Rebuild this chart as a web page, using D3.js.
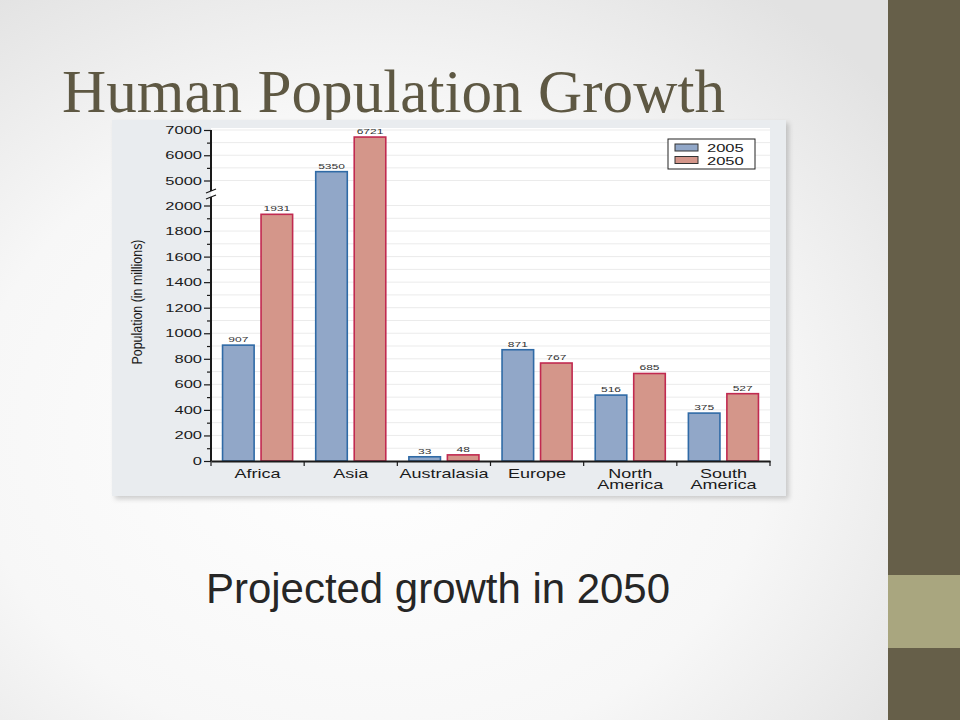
<!DOCTYPE html>
<html>
<head>
<meta charset="utf-8">
<script src="https://cdn.jsdelivr.net/npm/d3@7"></script>
<style>
  body { margin: 0; }
  svg { display: block; }
</style>
</head>
<body>
<div id="slide"></div>
<script>
// data
var regions = ["Africa", "Asia", "Australasia", "Europe", "North America", "South America"];
var years = ["2005", "2050"];
var pop2005 = [907, 5350, 33, 871, 516, 375];
var pop2050 = [1931, 6721, 48, 767, 685, 527];
var lowerTicks = [0, 200, 400, 600, 800, 1000, 1200, 1400, 1600, 1800, 2000];
var lowerMinor = [100, 300, 500, 700, 900, 1100, 1300, 1500, 1700, 1900];
var upperTicks = [5000, 6000, 7000];
var upperMinor = [5500, 6500];

var svgWidth = 960;
var svgHeight = 720;
var stretch = 1.5; // the chart picture is widened sideways

var svg = d3.select("#slide")
  .append("svg")
  .attr("width", svgWidth)
  .attr("height", svgHeight);

var defs = svg.append("defs");
var bg = defs.append("radialGradient").attr("id", "bg")
  .attr("cx", "42%").attr("cy", "60%").attr("r", "75%");
bg.append("stop").attr("offset", "0%").attr("stop-color", "#ffffff");
bg.append("stop").attr("offset", "60%").attr("stop-color", "#f7f7f7");
bg.append("stop").attr("offset", "100%").attr("stop-color", "#e2e2e2");

var shadow = defs.append("filter").attr("id", "shadow")
  .attr("x", "-5%").attr("y", "-5%").attr("width", "115%").attr("height", "115%");
shadow.append("feDropShadow").attr("dx", 3).attr("dy", 3)
  .attr("stdDeviation", 2.5).attr("flood-color", "#000").attr("flood-opacity", 0.18);

// slide background and side bar
svg.append("rect").attr("width", 888).attr("height", svgHeight).attr("fill", "url(#bg)");
svg.append("rect").attr("x", 888).attr("width", 72).attr("height", svgHeight).attr("fill", "#665f49");
svg.append("rect").attr("x", 888).attr("y", 575).attr("width", 72).attr("height", 73).attr("fill", "#a9a67f");

// title
svg.append("text")
  .attr("x", 62).attr("y", 112)
  .attr("font-family", "Liberation Serif, DejaVu Serif, serif")
  .attr("font-size", 61)
  .attr("fill", "#5e5843")
  .attr("textLength", 663)
  .attr("lengthAdjust", "spacingAndGlyphs")
  .text("Human Population Growth");

// chart panel
svg.append("rect")
  .attr("x", 112).attr("y", 120).attr("width", 674).attr("height", 376)
  .attr("fill", "#e9ecef")
  .attr("filter", "url(#shadow)");

var plot = { left: 211, right: 770, top: 128, bottom: 461 };

svg.append("rect")
  .attr("x", plot.left).attr("y", plot.top)
  .attr("width", plot.right - plot.left).attr("height", plot.bottom - plot.top)
  .attr("fill", "#ffffff");

// broken y scale: 0-2000 below, 5000-7000 above
var yScale = d3.scaleLinear()
  .domain([0, 2000, 5000, 7000])
  .range([plot.bottom, 205.5, 180.5, 130]);

var xScale = d3.scaleBand()
  .domain(regions)
  .range([plot.left, plot.right]);

var xInner = d3.scaleBand()
  .domain(years)
  .range([0, xScale.bandwidth()])
  .paddingInner(0.18)
  .paddingOuter(0.3);

var colors = {
  "2005": { fill: "#91a7c8", stroke: "#2f6aa6" },
  "2050": { fill: "#d4968a", stroke: "#c12a50" }
};

// grid lines
var gridVals = lowerTicks.concat(lowerMinor, upperTicks, upperMinor).filter(d => d > 0);
svg.append("g").selectAll("line")
  .data(gridVals)
  .enter()
  .append("line")
  .attr("x1", plot.left).attr("x2", plot.right)
  .attr("y1", d => yScale(d)).attr("y2", d => yScale(d))
  .attr("stroke", "#ebebeb")
  .attr("stroke-width", 1);

// bars
var rows = [];
regions.forEach(function(r, i) {
  rows.push({ region: r, year: "2005", value: pop2005[i] });
  rows.push({ region: r, year: "2050", value: pop2050[i] });
});

var barGroup = svg.append("g");
barGroup.selectAll("rect")
  .data(rows)
  .enter()
  .append("rect")
  .attr("x", d => xScale(d.region) + xInner(d.year))
  .attr("y", d => yScale(d.value))
  .attr("width", xInner.bandwidth())
  .attr("height", d => plot.bottom - yScale(d.value))
  .attr("fill", d => colors[d.year].fill)
  .attr("stroke", d => colors[d.year].stroke)
  .attr("stroke-width", 1.6);

barGroup.selectAll("text")
  .data(rows)
  .enter()
  .append("text")
  .attr("transform", d => `translate(${xScale(d.region) + xInner(d.year) + xInner.bandwidth() / 2},${yScale(d.value) - 3}) scale(${stretch},1)`)
  .attr("text-anchor", "middle")
  .attr("font-family", "Liberation Sans, Arial, sans-serif")
  .attr("font-size", 8)
  .attr("fill", "#333")
  .text(d => d.value);

// y axis: major and minor ticks
function styleTicks(g) {
  g.select(".domain").remove();
  g.selectAll("line").attr("stroke", "#1a1a1a").attr("stroke-width", 1.2);
  g.selectAll("text")
    .attr("x", null)
    .attr("transform", `translate(-9,0) scale(${stretch},1)`)
    .attr("font-family", "Liberation Sans, Arial, sans-serif")
    .attr("font-size", 11)
    .attr("fill", "#1a1a1a");
}

var yMajor = d3.axisLeft(yScale).tickValues(lowerTicks.concat(upperTicks)).tickSize(7).tickFormat(d3.format("d"));
var yMinor = d3.axisLeft(yScale).tickValues(lowerMinor.concat(upperMinor)).tickSize(4).tickFormat("");

svg.append("g").attr("transform", `translate(${plot.left},0)`).call(yMajor).call(styleTicks);
svg.append("g").attr("transform", `translate(${plot.left},0)`).call(yMinor).call(styleTicks);

// y axis line with break
var axisColor = "#1a1a1a";
svg.append("line").attr("x1", plot.left).attr("x2", plot.left)
  .attr("y1", yScale(7000)).attr("y2", 191)
  .attr("stroke", axisColor).attr("stroke-width", 2);
svg.append("line").attr("x1", plot.left).attr("x2", plot.left)
  .attr("y1", 197).attr("y2", plot.bottom)
  .attr("stroke", axisColor).attr("stroke-width", 2);
svg.append("line").attr("x1", plot.left - 5).attr("x2", plot.left + 5)
  .attr("y1", 193).attr("y2", 189).attr("stroke", axisColor).attr("stroke-width", 1.2);
svg.append("line").attr("x1", plot.left - 5).attr("x2", plot.left + 5)
  .attr("y1", 199).attr("y2", 195).attr("stroke", axisColor).attr("stroke-width", 1.2);

// x axis
var xAxis = d3.axisBottom(xScale).tickSize(0).tickFormat("");
var xg = svg.append("g").attr("transform", `translate(0,${plot.bottom})`).call(xAxis);
xg.select(".domain").attr("stroke", axisColor).attr("stroke-width", 2);

var bounds = regions.map(r => xScale(r)).concat([plot.right]);
svg.append("g").selectAll("line")
  .data(bounds)
  .enter()
  .append("line")
  .attr("x1", d => d).attr("x2", d => d)
  .attr("y1", plot.bottom).attr("y2", plot.bottom + 5)
  .attr("stroke", axisColor).attr("stroke-width", 1.2);

var catLabels = svg.append("g").selectAll("text")
  .data(regions)
  .enter()
  .append("text")
  .attr("transform", d => `translate(${xScale(d) + xScale.bandwidth() / 2},${plot.bottom + 17}) scale(${stretch},1)`)
  .attr("text-anchor", "middle")
  .attr("font-family", "Liberation Sans, Arial, sans-serif")
  .attr("font-size", 12)
  .attr("fill", "#1a1a1a");

catLabels.each(function(d) {
  var words = d.split(" ");
  var t = d3.select(this);
  words.forEach(function(w, i) {
    t.append("tspan").attr("x", 0).attr("dy", i === 0 ? 0 : 11.5).text(w);
  });
});

// y axis title
svg.append("text")
  .attr("transform", "translate(142,302) rotate(-90)")
  .attr("text-anchor", "middle")
  .attr("font-family", "Liberation Sans Narrow, Liberation Sans, Arial, sans-serif")
  .attr("font-size", 15.5)
  .attr("fill", "#1a1a1a")
  .attr("textLength", 125)
  .attr("lengthAdjust", "spacingAndGlyphs")
  .text("Population (in millions)");

// legend
var legend = svg.append("g");
legend.append("rect")
  .attr("x", 668).attr("y", 139).attr("width", 87).attr("height", 30)
  .attr("fill", "#fff").attr("stroke", "#222").attr("stroke-width", 1);

var legendItems = legend.selectAll("g.item")
  .data(years)
  .enter()
  .append("g")
  .attr("class", "item")
  .attr("transform", (d, i) => `translate(675,${144 + i * 12.5})`);

legendItems.append("rect")
  .attr("width", 23).attr("height", 7)
  .attr("fill", d => colors[d].fill)
  .attr("stroke", "#333").attr("stroke-width", 1);

legendItems.append("text")
  .attr("transform", `translate(32,8) scale(${stretch},1)`)
  .attr("font-family", "Liberation Sans, Arial, sans-serif")
  .attr("font-size", 11)
  .attr("fill", "#1a1a1a")
  .text(d => d);

// subtitle
svg.append("text")
  .attr("x", 206).attr("y", 603)
  .attr("font-family", "Liberation Sans, Arial, sans-serif")
  .attr("font-size", 42)
  .attr("fill", "#262626")
  .attr("textLength", 464)
  .attr("lengthAdjust", "spacingAndGlyphs")
  .text("Projected growth in 2050");
</script>
</body>
</html>
